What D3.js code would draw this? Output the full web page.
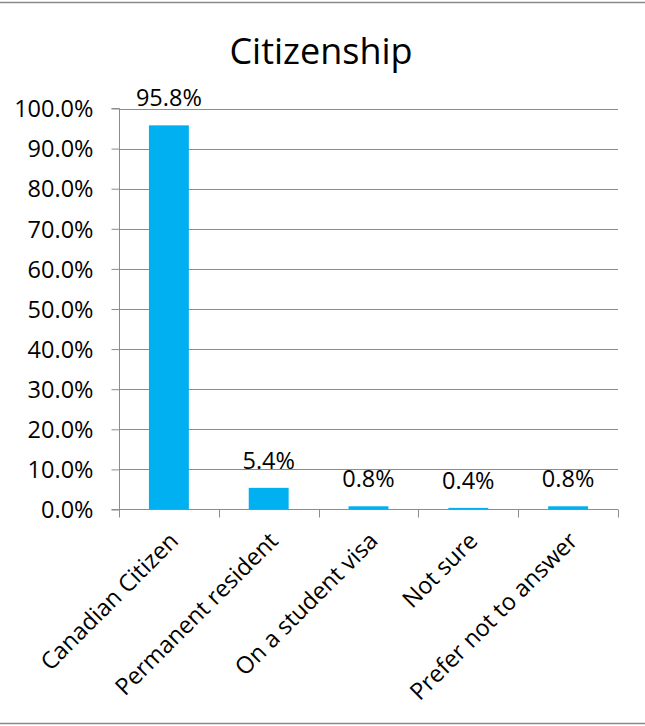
<!DOCTYPE html>
<html><head><meta charset="utf-8">
<script src="https://cdn.jsdelivr.net/npm/d3@7"></script>
<style>html,body{margin:0;padding:0;background:#fff;}svg{display:block;}</style>
</head><body>
<script>
const categories = ["Canadian Citizen", "Permanent resident", "On a student visa", "Not sure", "Prefer not to answer"];
const values = [95.8, 5.4, 0.8, 0.4, 0.8];
const valueLabels = ["95.8%", "5.4%", "0.8%", "0.4%", "0.8%"];
const yTicks = [0, 10, 20, 30, 40, 50, 60, 70, 80, 90, 100];
const title = "Citizenship";

(function () {
const W = 645, H = 726;
const font = "'Open Sans', sans-serif";
const svg = d3.select("body").append("svg").attr("width", W).attr("height", H);

// frame lines
svg.append("line").attr("x1", 0).attr("x2", W).attr("y1", 2.5).attr("y2", 2.5).attr("stroke", "#888").attr("stroke-width", 1.5);
svg.append("line").attr("x1", 0).attr("x2", W).attr("y1", 723.5).attr("y2", 723.5).attr("stroke", "#888").attr("stroke-width", 1.5);

const pLeft = 119, pRight = 618, pTop = 108.5, pBottom = 509.5;
const x = d3.scaleBand().domain(categories).range([pLeft, pRight]).padding(0);
const y = d3.scaleLinear().domain([0, 100]).range([pBottom, pTop]);

svg.append("text").attr("x", 321).attr("y", 64).attr("text-anchor", "middle")
  .attr("font-family", font).attr("font-size", 36).attr("fill", "#000").text(title);

// gridlines
svg.append("g").selectAll("line").data(yTicks.filter(d => d > 0)).join("line")
  .attr("x1", pLeft).attr("x2", pRight)
  .attr("y1", d => Math.round(y(d)) + 0.5).attr("y2", d => Math.round(y(d)) + 0.5)
  .attr("stroke", "#8c8c8c").attr("stroke-width", 1);

// bars
const bw = x.bandwidth() * 0.4;
svg.append("g").selectAll("rect").data(categories).join("rect")
  .attr("x", d => x(d) + (x.bandwidth() - bw) / 2)
  .attr("width", bw)
  .attr("y", (d, i) => y(values[i]))
  .attr("height", (d, i) => pBottom - y(values[i]))
  .attr("fill", "#00B0F0");

// y axis
const yAxis = d3.axisLeft(y).tickValues(yTicks).tickSize(8).tickPadding(18)
  .tickFormat(d => d3.format(".1f")(d) + "%");
const gy = svg.append("g").attr("transform", `translate(${pLeft + 0.5},0)`).call(yAxis);
gy.select(".domain").attr("stroke", "#8c8c8c").attr("d", `M-8,${pTop}H0V${pBottom}H-8`);
gy.selectAll(".tick line").attr("stroke", "#8c8c8c");
gy.selectAll(".tick text").attr("font-family", font).attr("font-size", 23.5).attr("fill", "#000").attr("dy", "0.35em");

// x axis
const xAxis = d3.axisBottom(x).tickSize(0).tickFormat("");
const gx = svg.append("g").attr("transform", `translate(0,${pBottom})`).call(xAxis);
gx.select(".domain").attr("stroke", "#8c8c8c").attr("d", `M${pLeft},0H${pRight}`);
// category boundary ticks
svg.append("g").selectAll("line").data(categories.concat(["end"])).join("line")
  .attr("x1", (d, i) => Math.round(i < categories.length ? x(d) : pRight) + 0.5)
  .attr("x2", (d, i) => Math.round(i < categories.length ? x(d) : pRight) + 0.5)
  .attr("y1", pBottom).attr("y2", pBottom + 8)
  .attr("stroke", "#8c8c8c");

// category labels
svg.append("g").selectAll("text").data(categories).join("text")
  .attr("transform", d => `translate(${x(d) + x.bandwidth() / 2 + 5},${pBottom + 27}) rotate(-45)`)
  .attr("text-anchor", "end").attr("dy", "0.35em")
  .attr("font-family", font).attr("font-size", 23.5).attr("fill", "#000")
  .text(d => d);

// value labels
svg.append("g").selectAll("text").data(categories).join("text")
  .attr("x", d => x(d) + x.bandwidth() / 2)
  .attr("y", (d, i) => y(values[i]) - 19)
  .attr("text-anchor", "middle")
  .attr("font-family", font).attr("font-size", 23.5).attr("fill", "#000")
  .text((d, i) => valueLabels[i]);
})();
</script>
</body></html>
